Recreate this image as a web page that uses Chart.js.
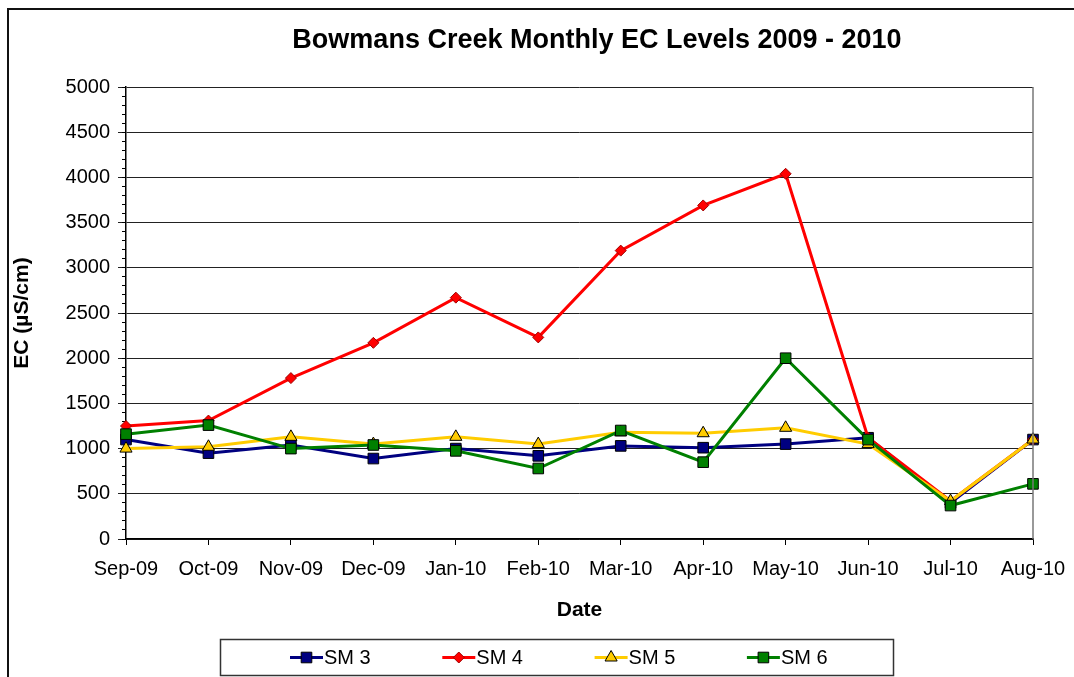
<!DOCTYPE html>
<html>
<head>
<meta charset="utf-8">
<title>Bowmans Creek Monthly EC Levels 2009 - 2010</title>
<script src="https://cdn.jsdelivr.net/npm/chart.js@4.4.1/dist/chart.umd.min.js"></script>
<style>
    html, body { margin: 0; padding: 0; background: #fff; }
    #ecChart { display: block; }
</style>
</head>
<body>
<canvas id="ecChart" width="1074" height="677"></canvas>
<script>
const months = ["Sep-09", "Oct-09", "Nov-09", "Dec-09", "Jan-10", "Feb-10",
    "Mar-10", "Apr-10", "May-10", "Jun-10", "Jul-10", "Aug-10"];

const sm3 = [1100, 950, 1040, 890, 1000, 920, 1030, 1010, 1050, 1120, 400, 1100];
const sm4 = [1250, 1310, 1780, 2170, 2670, 2230, 3190, 3690, 4040, 1120, 420, 1100];
const sm5 = [1000, 1020, 1130, 1050, 1130, 1050, 1180, 1170, 1230, 1050, 420, 1100];
const sm6 = [1160, 1260, 1000, 1040, 975, 780, 1200, 850, 2000, 1100, 370, 610];

const yMin = 0;
const yMax = 5000;
const yStep = 500;
const yMinorStep = 100;

const FONT = "'Liberation Sans', Arial, sans-serif";
const chartTitle = "Bowmans Creek Monthly EC Levels 2009 - 2010";

function series(label, data, color, pointStyle, radius, order) {
    return {
        label,
        data,
        borderColor: color,
        backgroundColor: color,
        borderWidth: 3,
        pointStyle,
        pointRadius: radius,
        pointBackgroundColor: color,
        pointBorderColor: "#000",
        pointBorderWidth: 1,
        tension: 0,
        order,
    };
}

const datasets = [
    series("SM 3", sm3, "#000080", "rect", 7.5, 4),
    series("SM 4", sm4, "#ff0000", "rectRot", 5.5, 3),
    series("SM 5", sm5, "#ffcc00", "triangle", 7, 2),
    series("SM 6", sm6, "#008000", "rect", 7.5, 1),
];
datasets[1].pointBorderColor = "#a00000";

// page frame, plot border, title and boxed legend
const decorPlugin = {
    id: "decor",
    beforeDraw(chart) {
        const ctx = chart.ctx;
        ctx.save();
        ctx.fillStyle = "#fff";
        ctx.fillRect(0, 0, chart.width, chart.height);
        ctx.strokeStyle = "#111";
        ctx.lineWidth = 2;
        ctx.beginPath();
        ctx.moveTo(8, chart.height);
        ctx.lineTo(8, 9);
        ctx.lineTo(chart.width, 9);
        ctx.stroke();
        ctx.restore();
    },
    afterDraw(chart) {
        const ctx = chart.ctx;
        const area = chart.chartArea;
        ctx.save();

        ctx.strokeStyle = "#777";
        ctx.lineWidth = 1.5;
        ctx.beginPath();
        ctx.moveTo(area.right, area.top);
        ctx.lineTo(area.right, area.bottom);
        ctx.stroke();

        ctx.fillStyle = "#000";
        ctx.font = "bold 27px " + FONT;
        ctx.textAlign = "center";
        ctx.textBaseline = "middle";
        ctx.fillText(chartTitle, 597, 41);

        // legend
        const boxLeft = 220.5, boxTop = 639.5, boxW = 673, boxH = 36;
        ctx.strokeStyle = "#333";
        ctx.lineWidth = 1.5;
        ctx.strokeRect(boxLeft, boxTop, boxW, boxH);

        const cy = boxTop + boxH / 2;
        ctx.font = "20px " + FONT;
        ctx.textAlign = "left";
        chart.data.datasets.forEach((ds, i) => {
            const x0 = 290 + i * 152.3;
            ctx.strokeStyle = ds.borderColor;
            ctx.lineWidth = 3;
            ctx.beginPath();
            ctx.moveTo(x0, cy);
            ctx.lineTo(x0 + 33, cy);
            ctx.stroke();
            ctx.fillStyle = ds.pointBackgroundColor;
            ctx.strokeStyle = ds.pointBorderColor;
            ctx.lineWidth = 1;
            Chart.helpers.drawPoint(ctx, {
                pointStyle: ds.pointStyle,
                radius: ds.pointRadius,
                rotation: 0,
                borderWidth: 1,
            }, x0 + 16.5, cy);
            ctx.fillStyle = "#000";
            ctx.fillText(ds.label, x0 + 34, cy + 1);
        });
        ctx.restore();
    },
};

new Chart(document.getElementById("ecChart"), {
    type: "line",
    data: { labels: months, datasets },
    options: {
        responsive: false,
        animation: false,
        devicePixelRatio: 1,
        layout: { padding: { left: 8, right: 41, top: 87, bottom: 43 } },
        plugins: {
            legend: { display: false },
            title: { display: false },
            tooltip: { enabled: false },
        },
        scales: {
            x: {
                type: "category",
                offset: false,
                afterFit: (scale) => {
                    scale.height = 95;
                    scale.paddingLeft = 0;
                    scale.paddingRight = 0;
                },
                grid: {
                    drawOnChartArea: false,
                    drawTicks: true,
                    tickLength: 6,
                    color: "#000",
                    lineWidth: 1,
                },
                border: { display: true, color: "#000", width: 1.5 },
                ticks: {
                    color: "#000",
                    font: { family: FONT, size: 20 },
                    padding: 12,
                    maxRotation: 0,
                    autoSkip: false,
                },
                title: {
                    display: true,
                    text: "Date",
                    color: "#000",
                    font: { family: FONT, size: 21, weight: "bold" },
                    padding: { top: 0, bottom: 11 },
                },
            },
            y: {
                min: yMin,
                max: yMax,
                weight: 1,
                afterFit: (scale) => { scale.width = 118; },
                grid: {
                    drawOnChartArea: true,
                    drawTicks: true,
                    tickLength: 8,
                    color: "#222",
                    lineWidth: 1,
                },
                border: { display: true, color: "#000", width: 1.5 },
                ticks: {
                    stepSize: yStep,
                    color: "#000",
                    font: { family: FONT, size: 20 },
                    padding: 8,
                    callback: (value) => String(value),
                },
                title: {
                    display: true,
                    text: "EC (µS/cm)",
                    color: "#000",
                    font: { family: FONT, size: 21, weight: "bold" },
                    padding: { top: 2, bottom: 0 },
                },
            },
            yMinor: {
                position: "left",
                min: yMin,
                max: yMax,
                weight: 0,
                afterFit: (scale) => { scale.width = 0; },
                grid: {
                    drawOnChartArea: false,
                    drawTicks: true,
                    tickLength: 4,
                    color: "#000",
                    lineWidth: 1,
                },
                border: { display: false },
                ticks: { stepSize: yMinorStep, display: false },
            },
        },
    },
    plugins: [decorPlugin],
});
</script>
</body>
</html>
